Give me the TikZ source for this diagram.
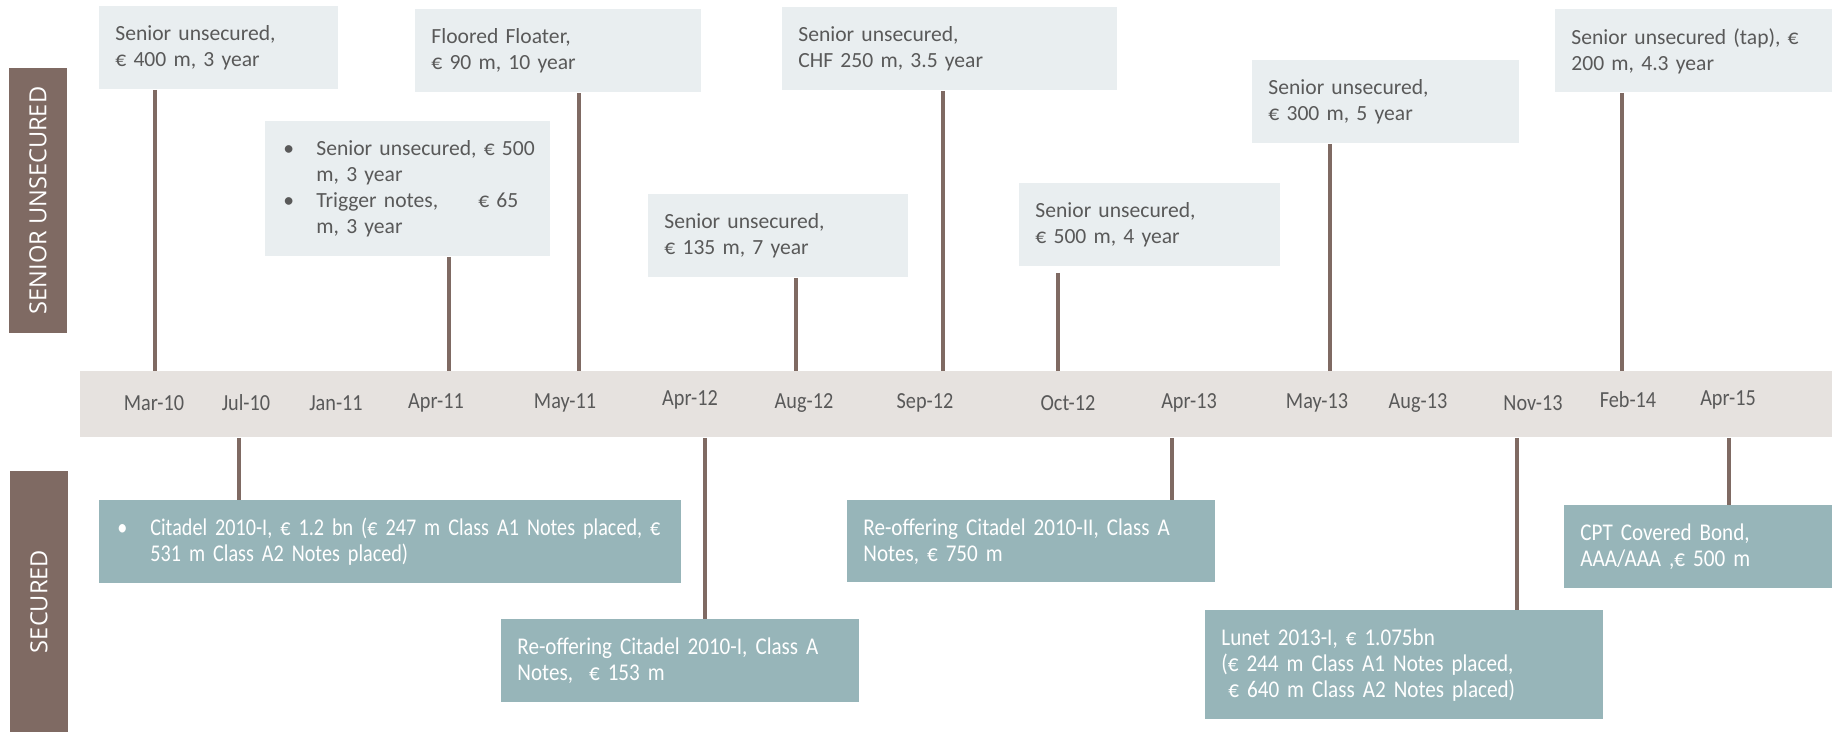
\documentclass[tikz,border=0pt]{standalone}
\usepackage{fontspec}
\usepackage{xcolor}
\usepackage{tikz}
\usetikzlibrary{positioning}
\newfontfamily\boxfont{Carlito}
\newfontfamily\narrowfont[FakeStretch=0.88]{Carlito}
\newfontfamily\narrowerfont[FakeStretch=0.84]{Carlito}
\newfontfamily\tagfont{Open Sans}
\newcommand{\topnotefont}{\fontsize{10.8}{13}\boxfont\fontdimen2\font=1.6pt\relax}
\newcommand{\lownotefont}{\fontsize{12}{13}\narrowfont\fontdimen2\font=1.4pt\relax}
\newcommand{\widenotefont}{\fontsize{12}{13}\narrowerfont\fontdimen2\font=1.4pt\relax}
\definecolor{paleblue}{HTML}{E9EEF0}
\definecolor{sand}{HTML}{E6E2DF}
\definecolor{sea}{HTML}{97B5B9}
\definecolor{mocha}{HTML}{7F6A63}
\definecolor{ink}{HTML}{595959}
\newcommand{\itemdot}{\hspace*{1pt}\makebox[16.5pt][l]{\textbullet}}

\begin{document}
\begin{tikzpicture}[
  x=0.5pt, y=-0.5pt,
  topnote/.style={rectangle, fill=paleblue, text=ink, font=\topnotefont,
                  align=left, anchor=north west, inner xsep=8pt, inner ysep=0pt,
                  minimum height=41.5pt},
  lownote/.style={rectangle, fill=sea, text=white, font=\lownotefont,
                  align=left, anchor=north west, inner xsep=8pt, inner ysep=0pt,
                  minimum height=41.5pt},
  side/.style={rectangle, fill=mocha, text=white, font=\fontsize{11.8}{14}\tagfont,
               rotate=90, minimum height=29pt, inner sep=0pt},
  month/.style={font=\fontsize{11.5}{13}\narrowfont, text=ink, inner sep=0pt},
  stem/.style={draw=mocha, line width=2pt}
]
  \useasboundingbox (0,0) rectangle (1832,732);

  % side labels
  \node[side, minimum width=132.5pt] (unsec) at (38,200.5) {SENIOR UNSECURED};
  \node[side, minimum width=130.5pt] (sec) at (39,601.5) {SECURED};

  % time band
  \node[fill=sand, anchor=north west, minimum width=876pt, minimum height=33pt,
        inner sep=0pt] (band) at (80,371) {};
  \node[month] (m1) at (154,403) {Mar-10};
  \node[month] (m2) at (246,403) {Jul-10};
  \node[month] (m3) at (336,403) {Jan-11};
  \node[month] (m4) at (436,403) {Apr-11};
  \node[month] (m5) at (565,403) {May-11};
  \node[month] (m6) at (690,400) {Apr-12};
  \node[month] (m7) at (804,403) {Aug-12};
  \node[month] (m8) at (925,403) {Sep-12};
  \node[month] (m9) at (1068,403) {Oct-12};
  \node[month] (m10) at (1189,403) {Apr-13};
  \node[month] (m11) at (1317,403) {May-13};
  \node[month] (m12) at (1418,403) {Aug-13};
  \node[month] (m13) at (1533,403) {Nov-13};
  \node[month] (m14) at (1628,400) {Feb-14};
  \node[month] (m15) at (1728,400) {Apr-15};

  % senior unsecured issues
  \node[topnote, text width=103.5pt] (n1) at (99,6) {Senior unsecured,\\€ 400 m, 3 year};
  \node[topnote, text width=126.5pt, minimum height=67.5pt] (n2) at (265,121)
    {\itemdot\mbox{Senior unsecured, € 500}\\\hspace*{17.5pt}m, 3 year\\
     \itemdot\mbox{Trigger notes,\hspace{20pt}€ 65}\\\hspace*{17.5pt}m, 3 year};
  \node[topnote, text width=127pt] (n3) at (415,9) {Floored Floater,\\€ 90 m, 10 year};
  \node[topnote, text width=114pt] (n4) at (648,194) {Senior unsecured,\\€ 135 m, 7 year};
  \node[topnote, text width=151.5pt] (n5) at (782,7) {Senior unsecured,\\CHF 250 m, 3.5 year};
  \node[topnote, text width=114.5pt] (n6) at (1019,183) {Senior unsecured,\\€ 500 m, 4 year};
  \node[topnote, text width=117.5pt] (n7) at (1252,60) {Senior unsecured,\\€ 300 m, 5 year};
  \node[topnote, text width=122.5pt] (n8) at (1555,9) {\mbox{Senior unsecured (tap), €}\\200 m, 4.3 year};

  \draw[stem] ([xshift=28pt]n1.south west) -- ([xshift=28pt]n1.south west |- band.north);
  \draw[stem] ([xshift=92pt]n2.south west) -- ([xshift=92pt]n2.south west |- band.north);
  \draw[stem] ([xshift=82pt]n3.south west) -- ([xshift=82pt]n3.south west |- band.north);
  \draw[stem] ([xshift=74pt]n4.south west) -- ([xshift=74pt]n4.south west |- band.north);
  \draw[stem] ([xshift=80.5pt]n5.south west) -- ([xshift=80.5pt]n5.south west |- band.north);
  \draw[stem, shorten <=3pt] ([xshift=19.5pt]n6.south west) -- ([xshift=19.5pt]n6.south west |- band.north);
  \draw[stem] ([xshift=39pt]n7.south west) -- ([xshift=39pt]n7.south west |- band.north);
  \draw[stem] ([xshift=33.5pt]n8.south west) -- ([xshift=33.5pt]n8.south west |- band.north);

  % secured issues
  \node[lownote, font=\widenotefont, text width=275pt] (b1) at (99,500)
    {\itemdot\mbox{Citadel 2010-I, € 1.2 bn (€ 247 m Class A1 Notes placed, €}\\\hspace*{17.5pt}531 m Class A2 Notes placed)};
  \node[lownote, text width=163pt] (b2) at (501,619) {\mbox{Re-offering Citadel 2010-I, Class A}\\Notes,~ € 153 m};
  \node[lownote, text width=168pt, minimum height=41pt] (b3) at (847,500) {\mbox{Re-offering Citadel 2010-II, Class A}\\Notes, € 750 m};
  \node[lownote, text width=183pt, minimum height=54.5pt] (b4) at (1205,610)
    {Lunet 2013-I, € 1.075bn\\(€ 244 m Class A1 Notes placed,\\\hspace*{3.5pt}€ 640 m Class A2 Notes placed)};
  \node[lownote, text width=118pt] (b5) at (1564,505) {CPT Covered Bond,\\AAA/AAA ,€ 500 m};

  \draw[stem] ([xshift=70pt]b1.north west |- band.south) -- ([xshift=70pt]b1.north west);
  \draw[stem] ([xshift=102pt]b2.north west |- band.south) -- ([xshift=102pt]b2.north west);
  \draw[stem] ([xshift=162.5pt]b3.north west |- band.south) -- ([xshift=162.5pt]b3.north west);
  \draw[stem] ([xshift=156pt]b4.north west |- band.south) -- ([xshift=156pt]b4.north west);
  \draw[stem] ([xshift=82.5pt]b5.north west |- band.south) -- ([xshift=82.5pt]b5.north west);
\end{tikzpicture}
\end{document}
